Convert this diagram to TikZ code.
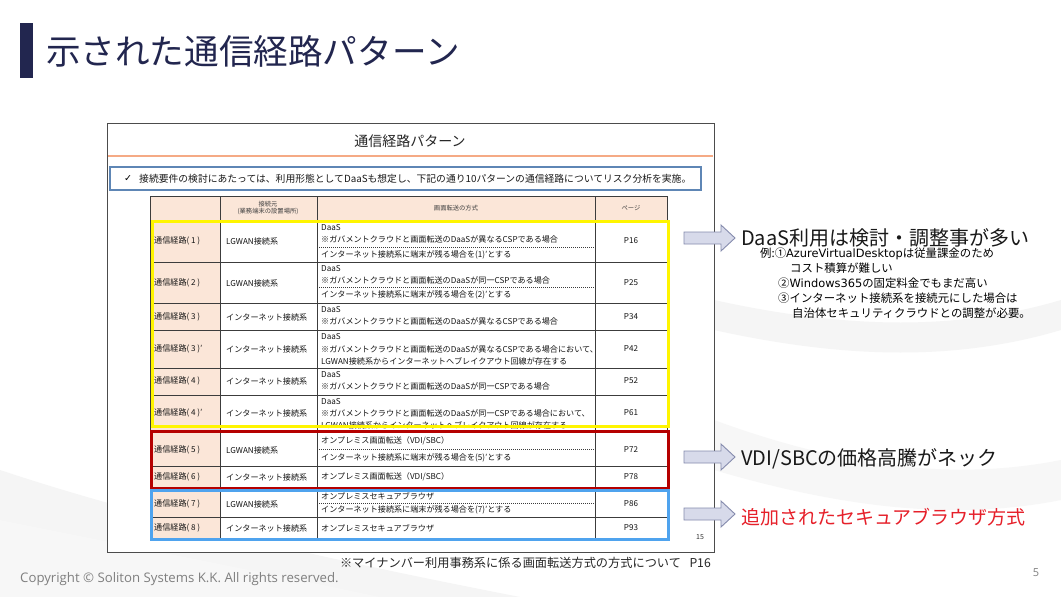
\documentclass[tikz,border=0pt]{standalone}
\usepackage{fontspec}
\setmainfont{Noto Sans CJK JP}
\newfontfamily\dejavu{DejaVu Sans}
\newfontfamily\opensans{Open Sans}
\newcommand\lat[1]{{\dejavu #1}}
\definecolor{navy}{HTML}{22264F}
\definecolor{peach}{HTML}{FBE6D8}
\definecolor{gridc}{HTML}{3C3C3C}
\definecolor{orangeln}{HTML}{F5AA85}
\definecolor{chkblue}{HTML}{5E86B5}
\definecolor{ybox}{HTML}{FFF500}
\definecolor{rbox}{HTML}{B50000}
\definecolor{bbox}{HTML}{4FA3EE}
\definecolor{redtxt}{HTML}{E6202A}
\definecolor{arrfill}{HTML}{D7DAEA}
\definecolor{arrdraw}{HTML}{858BAD}
\definecolor{copyg}{HTML}{7F7F7F}
\newcommand\blkarrow[2]{%
  \filldraw[fill=arrfill,draw=arrdraw,line width=0.9pt,line join=miter]
    (#1,#2-6) -- (#1+37,#2-6) -- (#1+37,#2-13) -- (#1+51,#2) -- (#1+37,#2+13)
    -- (#1+37,#2+6) -- (#1,#2+6) -- cycle;}
\begin{document}
\begin{tikzpicture}[x=1pt,y=-1pt,
  cell/.style={anchor=west,inner sep=0pt,font=\fontsize{8.1}{9}\selectfont,text=black!92},
  pg/.style={inner sep=0pt,font=\fontsize{8.1}{9}\selectfont,text=black!92},
  hdr/.style={inner sep=0pt,font=\fontsize{6.3}{7}\selectfont,text=black!75,align=center},
  gridln/.style={draw=gridc,line width=0.8pt},
  dashln/.style={draw=gridc,line width=0.5pt,dash pattern=on 1.2pt off 0.8pt},
  sub/.style={anchor=west,inner sep=0pt,font=\fontsize{11.4}{13}\selectfont,text=black},
  big/.style={anchor=west,inner sep=0pt,font=\fontsize{20}{24}\selectfont,text=black!90}]
\useasboundingbox (0,0) rectangle (1061,597);
\fill[white] (0,0) rectangle (1061,597);
% faint background swooshes
\fill[black!4] (0,470) .. controls (150,520) and (330,560) .. (520,597) -- (0,597) -- cycle;
\fill[black!3] (0,520) .. controls (200,560) and (300,580) .. (380,597) -- (0,597) -- cycle;
\fill[black!4] (714,300) .. controls (850,330) and (960,330) .. (1061,300) -- (1061,330) .. controls (960,360) and (850,360) .. (714,330) -- cycle;
\fill[black!3] (714,420) .. controls (850,470) and (960,480) .. (1061,460) -- (1061,500) .. controls (960,520) and (850,510) .. (714,470) -- cycle;
% title
\fill[navy] (20,23) rectangle (33,78);
\node[anchor=west,inner sep=0pt,font=\fontsize{34.6}{40}\selectfont,text=navy] (title) at (46,51) {示された通信経路パターン};
% inner slide
\filldraw[fill=white,draw=black!70,line width=1pt] (107,123) rectangle (714,552);
\node[inner sep=0pt,font=\fontsize{14}{16}\selectfont,text=black!85] (ititle) at (410,141) {通信経路パターン};
\draw[orangeln,line width=2.5pt] (108,156) -- (713,156);
\draw[chkblue,line width=1.2pt] (110,167) rectangle (701,190);
\node[anchor=west,inner sep=0pt,font=\dejavu\fontsize{9.5}{10}\selectfont] (chk) at (124,179) {✓};
\node[anchor=west,inner sep=0pt,font=\fontsize{9.8}{11}\selectfont,text=black!90] (chktxt) at (139,179) {接続要件の検討にあたっては、利用形態としてDaaSも想定し、下記の通り10パターンの通信経路についてリスク分析を実施。};
% table backgrounds
\fill[peach] (150,196) rectangle (667,221);
\fill[peach] (150,221) rectangle (220,538);
% grid
\foreach \x in {150,220,317,595,667} \draw[gridln] (\x,196) -- (\x,538);
\foreach \y in {196,221,262,303,330,368,395,431,466,489,517,538} \draw[gridln] (150,\y) -- (667,\y);
\foreach \y in {247,287,449,503} \draw[dashln] (317,\y) -- (595,\y);
% header
\node[hdr] (h1) at (268,208) {接続元\\(業務端末の設置場所)};
\node[hdr] (h2) at (456,208) {画面転送の方式};
\node[hdr] (h3) at (631,208) {ページ};
% row 1
\node[cell] (r1a) at (154,241) {通信経路( 1 )};
\node[cell] (r1b) at (226,241) {LGWAN接続系};
\node[cell] (r1c) at (321,228) {DaaS};
\node[cell] (r1d) at (321,239) {※ガバメントクラウドと画面転送のDaaSが異なるCSPである場合};
\node[cell] (r1e) at (321,255) {インターネット接続系に端末が残る場合を(1)’とする};
\node[pg] (r1p) at (631,241) {P16};
% row 2
\node[cell] (r2a) at (154,283) {通信経路( 2 )};
\node[cell] (r2b) at (226,283) {LGWAN接続系};
\node[cell] (r2c) at (321,269) {DaaS};
\node[cell] (r2d) at (321,280) {※ガバメントクラウドと画面転送のDaaSが同一CSPである場合};
\node[cell] (r2e) at (321,295) {インターネット接続系に端末が残る場合を(2)’とする};
\node[pg] (r2p) at (631,283) {P25};
% row 3
\node[cell] (r3a) at (154,317) {通信経路( 3 )};
\node[cell] (r3b) at (226,317) {インターネット接続系};
\node[cell] (r3c) at (321,310) {DaaS};
\node[cell] (r3d) at (321,321) {※ガバメントクラウドと画面転送のDaaSが異なるCSPである場合};
\node[pg] (r3p) at (631,317) {P34};
% row 3'
\node[cell] (r4a) at (154,349) {通信経路( 3 )’};
\node[cell] (r4b) at (226,349) {インターネット接続系};
\node[cell] (r4c) at (321,337) {DaaS};
\node[cell] (r4d) at (321,349) {※ガバメントクラウドと画面転送のDaaSが異なるCSPである場合において、};
\node[cell] (r4e) at (321,361) {LGWAN接続系からインターネットへブレイクアウト回線が存在する};
\node[pg] (r4p) at (631,349) {P42};
% row 4
\node[cell] (r5a) at (154,381) {通信経路( 4 )};
\node[cell] (r5b) at (226,381) {インターネット接続系};
\node[cell] (r5c) at (321,375) {DaaS};
\node[cell] (r5d) at (321,386) {※ガバメントクラウドと画面転送のDaaSが同一CSPである場合};
\node[pg] (r5p) at (631,381) {P52};
% row 4'
\node[cell] (r6a) at (154,413) {通信経路( 4 )’};
\node[cell] (r6b) at (226,413) {インターネット接続系};
\node[cell] (r6c) at (321,402) {DaaS};
\node[cell] (r6d) at (321,413) {※ガバメントクラウドと画面転送のDaaSが同一CSPである場合において、};
\node[cell] (r6e) at (321,425) {LGWAN接続系からインターネットへブレイクアウト回線が存在する};
\node[pg] (r6p) at (631,413) {P61};
% row 5
\node[cell] (r7a) at (154,450) {通信経路( 5 )};
\node[cell] (r7b) at (226,450) {LGWAN接続系};
\node[cell] (r7c) at (321,441) {オンプレミス画面転送（VDI/SBC）};
\node[cell] (r7d) at (321,458) {インターネット接続系に端末が残る場合を(5)’とする};
\node[pg] (r7p) at (631,450) {P72};
% row 6
\node[cell] (r8a) at (154,477) {通信経路( 6 )};
\node[cell] (r8b) at (226,477) {インターネット接続系};
\node[cell] (r8c) at (321,477) {オンプレミス画面転送（VDI/SBC）};
\node[pg] (r8p) at (631,477) {P78};
% row 7
\node[cell] (r9a) at (154,504) {通信経路( 7 )};
\node[cell] (r9b) at (226,504) {LGWAN接続系};
\node[cell] (r9c) at (321,496) {オンプレミスセキュアブラウザ};
\node[cell] (r9d) at (321,510) {インターネット接続系に端末が残る場合を(7)’とする};
\node[pg] (r9p) at (631,504) {P86};
% row 8
\node[cell] (r10a) at (154,528) {通信経路( 8 )};
\node[cell] (r10b) at (226,528) {インターネット接続系};
\node[cell] (r10c) at (321,528) {オンプレミスセキュアブラウザ};
\node[pg] (r10p) at (631,528) {P93};
% highlight boxes
\draw[ybox,line width=3pt] (152,221) rectangle (668,426);
\draw[rbox,line width=3pt] (151,431) rectangle (668,488);
\draw[bbox,line width=3pt] (151,490) rectangle (668,539);
\node[inner sep=0pt,font=\fontsize{7}{8}\selectfont,text=black!80] (pnum) at (700,537) {15};
% footnote and footer
\node[anchor=east,inner sep=0pt,font=\fontsize{12.2}{14}\selectfont,text=black!85] (fn) at (711,563) {※マイナンバー利用事務系に係る画面転送方式の方式について\hspace{0.7em}P16};
\node[anchor=west,inner sep=0pt,font=\opensans\fontsize{13.2}{15}\selectfont,text=copyg] (copy) at (20,579) {Copyright © Soliton Systems K.K. All rights reserved.};
\node[inner sep=0pt,font=\opensans\fontsize{11}{13}\selectfont,text=copyg] (slno) at (1036,573) {5};
% right side
\blkarrow{684}{238}
\blkarrow{684}{457}
\blkarrow{684}{514}
\node[big] (c1) at (741,238) {DaaS利用は検討・調整事が多い};
\node[sub] (s1) at (760,254) {例:①\lat{AzureVirtualDesktop}は従量課金のため};
\node[sub] (s2) at (790,268) {コスト積算が難しい};
\node[sub] (s3) at (778,283) {②\lat{Windows365}の固定料金でもまだ高い};
\node[sub] (s4) at (778,298) {③インターネット接続系を接続元にした場合は};
\node[sub] (s5) at (792,313) {自治体セキュリティクラウドとの調整が必要。};
\node[big] (c2) at (741,459) {VDI/SBCの価格高騰がネック};
\node[big,font=\fontsize{19}{22}\selectfont,text=redtxt] (c3) at (741,517) {追加されたセキュアブラウザ方式};
\end{tikzpicture}
\end{document}
